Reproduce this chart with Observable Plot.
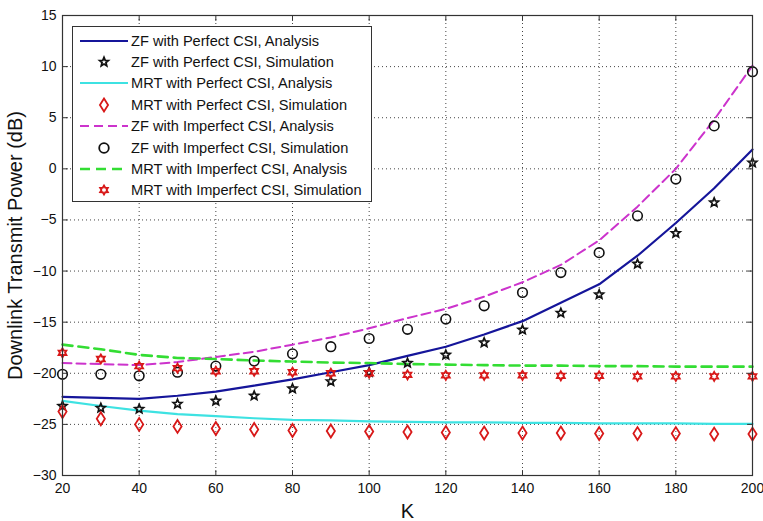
<!DOCTYPE html>
<html>
<head>
<meta charset="utf-8">
<script src="https://cdn.jsdelivr.net/npm/d3@7"></script>
<script src="https://cdn.jsdelivr.net/npm/@observablehq/plot@0.6"></script>
<style>
  html, body { margin: 0; padding: 0; background: #fff; }
  #wrap { position: relative; width: 763px; height: 521px; font-family: "Liberation Sans", Arial, sans-serif; }
  #legend { position: absolute; left: 72px; top: 26px; width: 300px; height: 176px; box-sizing: border-box;
            border: 1px solid #333; background: #fff; padding-top: 3px; }
  .row { height: 21.4px; display: flex; align-items: center; font-size: 14.6px; color: #111; white-space: nowrap; }
  .row svg { width: 58px; height: 16px; flex: none; }
</style>
</head>
<body>
<div id="wrap"></div>
<script>
const K = [20,30,40,50,60,70,80,90,100,110,120,130,140,150,160,170,180,190,200];
const zfPerfAna = [-22.3,-22.4,-22.5,-22.2,-21.8,-21.2,-20.6,-19.9,-19.2,-18.3,-17.4,-16.2,-14.9,-13.1,-11.3,-8.5,-5.3,-1.9,1.9];
const zfPerfSim = [-23.2,-23.4,-23.5,-23.0,-22.7,-22.2,-21.5,-20.8,-19.9,-19.0,-18.2,-17.0,-15.75,-14.1,-12.3,-9.3,-6.3,-3.3,0.6];
const mrtPerfAna = [-22.7,-23.2,-23.65,-24.0,-24.2,-24.4,-24.55,-24.6,-24.7,-24.75,-24.8,-24.8,-24.85,-24.85,-24.9,-24.9,-24.9,-24.95,-24.95];
const mrtPerfSim = [-23.75,-24.45,-25.0,-25.2,-25.4,-25.5,-25.6,-25.65,-25.7,-25.75,-25.8,-25.85,-25.85,-25.85,-25.9,-25.9,-25.9,-25.95,-25.95];
const zfImpAna = [-19.0,-19.1,-19.2,-18.9,-18.4,-17.9,-17.2,-16.5,-15.6,-14.6,-13.7,-12.5,-11.1,-9.4,-7.0,-3.7,0.0,4.8,10.1];
const zfImpSim = [-20.1,-20.1,-20.25,-19.9,-19.3,-18.8,-18.1,-17.4,-16.6,-15.7,-14.7,-13.4,-12.1,-10.15,-8.2,-4.6,-1.0,4.2,9.5];
const mrtImpAna = [-17.2,-17.65,-18.2,-18.5,-18.6,-18.75,-18.85,-18.95,-19.0,-19.1,-19.15,-19.2,-19.25,-19.25,-19.3,-19.3,-19.35,-19.35,-19.35];
const mrtImpSim = [-18.0,-18.6,-19.3,-19.5,-19.8,-19.8,-19.9,-20.0,-20.0,-20.15,-20.2,-20.2,-20.2,-20.25,-20.25,-20.3,-20.3,-20.3,-20.3];

const xTicks = [20,40,60,80,100,120,140,160,180,200];
const yTicks = [-30,-25,-20,-15,-10,-5,0,5,10,15];

const names = [
  "ZF with Perfect CSI, Analysis",
  "ZF with Perfect CSI, Simulation",
  "MRT with Perfect CSI, Analysis",
  "MRT with Perfect CSI, Simulation",
  "ZF with Imperfect CSI, Analysis",
  "ZF with Imperfect CSI, Simulation",
  "MRT with Imperfect CSI, Analysis",
  "MRT with Imperfect CSI, Simulation"
];

const BLUE = "#15159a", CYAN = "#3ee2e2", MAGENTA = "#cc33cc", GREEN = "#33dd33", RED = "#d81818", BLACK = "#111";

// custom marker symbols
const rOf = s => Math.sqrt(s / Math.PI);
const star5 = { draw(c, s) { const R = rOf(s) * 1.25, r = R * 0.45;
  for (let i = 0; i < 10; i++) { const a = -Math.PI/2 + i*Math.PI/5, rr = i%2 ? r : R;
    const px = rr*Math.cos(a), py = rr*Math.sin(a); i ? c.lineTo(px, py) : c.moveTo(px, py); }
  c.closePath(); } };
const diamondTall = { draw(c, s) { const r = rOf(s); const w = r*0.85, h = r*1.35;
  c.moveTo(0,-h); c.lineTo(w,0); c.lineTo(0,h); c.lineTo(-w,0); c.closePath(); } };
const hexagram = { draw(c, s) { const R = rOf(s) * 1.2, r = R * 0.58;
  for (let i = 0; i < 12; i++) { const a = -Math.PI/2 + i*Math.PI/6, rr = i%2 ? r : R;
    const px = rr*Math.cos(a), py = rr*Math.sin(a); i ? c.lineTo(px, py) : c.moveTo(px, py); }
  c.closePath(); } };
const tickShape = { draw(c, l) { c.moveTo(0, 0); c.lineTo(0, -l); } };

const mk = arr => K.map((k, i) => ({K: k, v: arr[i]}));
const tickOpts = { length: 5, anchor: "start", shape: tickShape, stroke: "#333", strokeWidth: 1, fill: "none" };

const chart = Plot.plot({
  width: 763, height: 521,
  marginLeft: 62, marginRight: 11, marginTop: 15, marginBottom: 46,
  style: { fontFamily: "Liberation Sans, Arial, sans-serif", background: "#fff" },
  x: { domain: [20, 200] },
  y: { domain: [-30, 15] },
  marks: [
    Plot.ruleX(xTicks.slice(1, -1), { stroke: "#444", strokeDasharray: "1,3", strokeWidth: 1 }),
    Plot.ruleY(yTicks.slice(1, -1), { stroke: "#444", strokeDasharray: "1,3", strokeWidth: 1 }),
    Plot.line(mk(mrtPerfAna), { x: "K", y: "v", stroke: CYAN, strokeWidth: 2.2 }),
    Plot.line(mk(zfPerfAna), { x: "K", y: "v", stroke: BLUE, strokeWidth: 2.2 }),
    Plot.line(mk(zfImpAna), { x: "K", y: "v", stroke: MAGENTA, strokeWidth: 2, strokeDasharray: "9,5" }),
    Plot.line(mk(mrtImpAna), { x: "K", y: "v", stroke: GREEN, strokeWidth: 2.6, strokeDasharray: "10,6" }),
    Plot.dot(mk(zfPerfSim), { x: "K", y: "v", symbol: star5, r: 3.7, stroke: BLACK, strokeWidth: 1.7, fill: "none" }),
    Plot.dot(mk(zfImpSim), { x: "K", y: "v", symbol: "circle", r: 4.8, stroke: BLACK, strokeWidth: 1.6, fill: "none" }),
    Plot.dot(mk(mrtPerfSim), { x: "K", y: "v", symbol: diamondTall, r: 4.8, stroke: RED, strokeWidth: 1.8, fill: "none" }),
    Plot.dot(mk(mrtImpSim), { x: "K", y: "v", symbol: hexagram, r: 3.7, stroke: RED, strokeWidth: 1.9, fill: "none" }),
    Plot.frame({ stroke: "#333", strokeWidth: 1.2 }),
    Plot.vector(xTicks, { x: d => d, frameAnchor: "bottom", rotate: 0, ...tickOpts }),
    Plot.vector(xTicks, { x: d => d, frameAnchor: "top", rotate: 180, ...tickOpts }),
    Plot.vector(yTicks, { y: d => d, frameAnchor: "left", rotate: 90, ...tickOpts }),
    Plot.vector(yTicks, { y: d => d, frameAnchor: "right", rotate: -90, ...tickOpts }),
    Plot.axisX(xTicks, { anchor: "bottom", tickSize: 0, tickPadding: 8, fontSize: 14, fill: "#111", label: "K", labelAnchor: "center", labelArrow: "none", labelOffset: 42 }),
    Plot.axisY(yTicks, { anchor: "left", tickSize: 0, tickPadding: 6, fontSize: 14, fill: "#111", label: "Downlink Transmit Power (dB)", labelAnchor: "center", labelArrow: "none", labelOffset: 55 })
  ]
});
d3.select(chart).selectAll("[aria-label='x-axis label'] text, [aria-label='y-axis label'] text").style("font-size", "20px");
document.getElementById("wrap").appendChild(chart);

// legend (HTML overlay)
const legendSpec = [
  { line: BLUE, w: 2.2 },
  { sym: star5, col: BLACK, r: 3.7 },
  { line: CYAN, w: 2.2 },
  { sym: diamondTall, col: RED, r: 4.8 },
  { line: MAGENTA, w: 2, dash: "9,5" },
  { sym: d3.symbolCircle, col: BLACK, r: 4.8 },
  { line: GREEN, w: 2.6, dash: "10,6" },
  { sym: hexagram, col: RED, r: 3.7 }
];
const lg = document.createElement("div");
lg.id = "legend";
legendSpec.forEach((s, i) => {
  const row = document.createElement("div");
  row.className = "row";
  const svg = d3.create("svg").attr("viewBox", "0 0 58 16");
  if (s.line) {
    svg.append("line").attr("x1", 7).attr("x2", 55).attr("y1", 8).attr("y2", 8)
      .attr("stroke", s.line).attr("stroke-width", s.w).attr("stroke-dasharray", s.dash || null);
  } else {
    const sy = d3.symbol(s.sym, Math.PI * s.r * s.r);
    svg.append("path").attr("transform", "translate(31,8)").attr("d", sy())
      .attr("fill", "none").attr("stroke", s.col).attr("stroke-width", 1.8);
  }
  row.appendChild(svg.node());
  const t = document.createElement("span");
  t.textContent = names[i];
  row.appendChild(t);
  lg.appendChild(row);
});
document.getElementById("wrap").appendChild(lg);
</script>
</body>
</html>
